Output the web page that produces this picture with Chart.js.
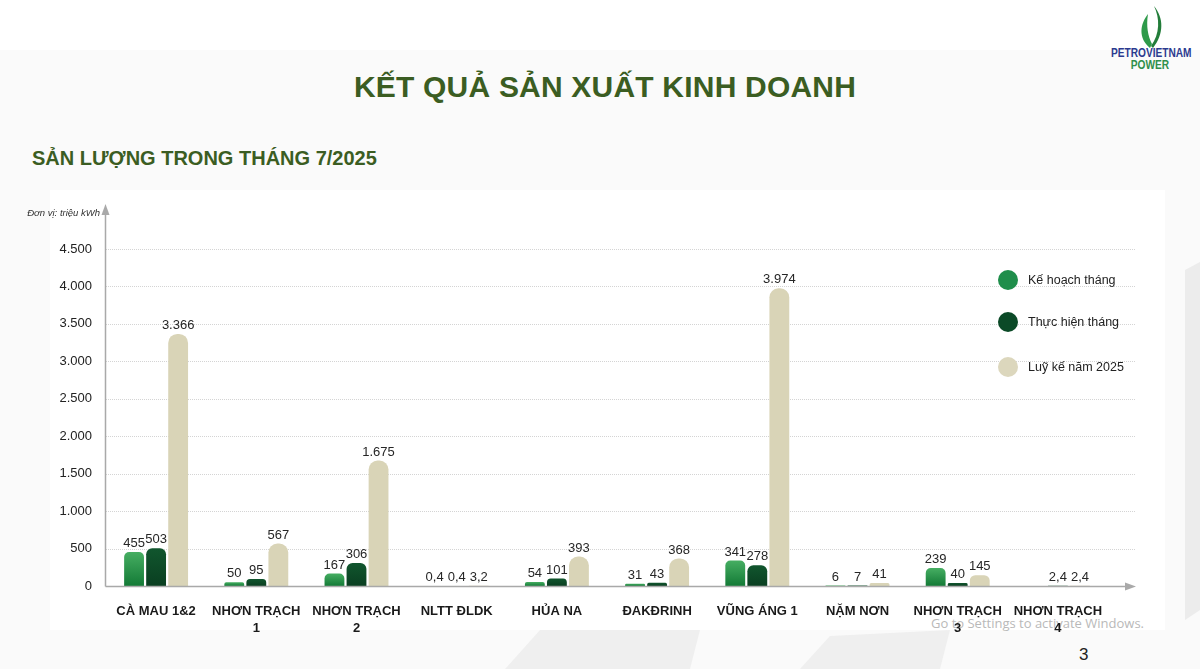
<!DOCTYPE html>
<html>
<head>
<meta charset="utf-8">
<script src="https://cdn.jsdelivr.net/npm/chart.js@4.4.1/dist/chart.umd.min.js"></script>
<style>
  html, body { margin: 0; padding: 0; }
  body { width: 1200px; height: 669px; position: relative; overflow: hidden; background: #fafafa; font-family: "Liberation Sans", Arial, sans-serif; }
  .topband { position: absolute; left: 0; top: 0; width: 1200px; height: 50px; background: #fff; }
  .panel { position: absolute; left: 50px; top: 190px; width: 1115px; height: 440px; background: #fff; }
  .deco { position: absolute; left: 0; top: 0; }
  h1 { position: absolute; left: 0; width: 1210px; top: 70px; margin: 0; text-align: center; font-size: 30px; font-weight: bold; color: #3b5d22; letter-spacing: 0.2px; }
  h2 { position: absolute; left: 32px; top: 147px; margin: 0; font-size: 20px; font-weight: bold; color: #3b5d22; }
  .logo { position: absolute; left: 1100px; top: 4px; width: 100px; text-align: center; font-weight: bold; line-height: 12px; }
  .logo .l1, .logo .l2 { transform: scaleX(0.78); transform-origin: 50% 50%; font-size: 13px; }
  .logo .l1 { color: #2b3a8f; margin-top: -2px; }
  .logo .l2 { color: #2f8f4a; }
  .pageno { position: absolute; left: 1079px; top: 645px; font-size: 17px; color: #222; }
  .wm { position: absolute; left: 931px; top: 614px; font-family: "Open Sans", sans-serif; font-size: 13px; color: #b9b9b9; }
  canvas { position: absolute; left: 0; top: 0; }
</style>
</head>
<body>
<div class="topband"></div>
<svg class="deco" width="1200" height="669">
  <polygon points="1185,270 1200,262 1200,610 1185,620" fill="#ececec"/>
  <polygon points="505,669 540,630 700,630 690,669" fill="#efefef"/>
  <polygon points="800,669 830,636 950,630 940,669" fill="#efefef"/>
</svg>
<div class="panel"></div>
<h1>KẾT QUẢ SẢN XUẤT KINH DOANH</h1>
<h2>SẢN LƯỢNG TRONG THÁNG 7/2025</h2>
<div class="logo">
  <svg width="40" height="44" viewBox="0 0 40 44">
    <path d="M20 44 C8 34 10 20 18 10 C16 22 18 32 22 40 Z" fill="#2e9a4a"/>
    <path d="M21 42 C30 30 30 14 24 2 C34 14 34 30 23 44 Z" fill="#237d3a"/>
  </svg>
  <div class="l1">PETROVIETNAM</div>
  <div class="l2">POWER</div>
</div>
<div class="pageno">3</div>
<div class="wm">Go to Settings to activate Windows.</div>
<canvas id="chart" width="1200" height="669"></canvas>

<script>
const categories = [
  ['CÀ MAU 1&2'],
  ['NHƠN TRẠCH', '1'],
  ['NHƠN TRẠCH', '2'],
  ['NLTT ĐLDK'],
  ['HỦA NA'],
  ['ĐAKĐRINH'],
  ['VŨNG ÁNG 1'],
  ['NẶM NƠN'],
  ['NHƠN TRẠCH', '3'],
  ['NHƠN TRẠCH', '4']
];
const keHoachThang = [455, 50, 167, 0.4, 54, 31, 341, 6, 239, null];
const thucHienThang = [503, 95, 306, 0.4, 101, 43, 278, 7, 40, 2.4];
const luyKeNam = [3366, 567, 1675, 3.2, 393, 368, 3974, 41, 145, 2.4];
const yTicks = [0, 500, 1000, 1500, 2000, 2500, 3000, 3500, 4000, 4500];
const yUnit = 'Đơn vị: triệu kWh';

// so kieu VN: 3.366 va 0,4
function fmtVi(v) {
  const parts = String(v).split('.');
  parts[0] = parts[0].replace(/\B(?=(\d{3})+(?!\d))/g, '.');
  return parts.join(',');
}

function barGradient(ctx, top, bottom) {
  const chart = ctx.chart;
  const y = chart.scales && chart.scales.y;
  if (!chart.chartArea || !y || ctx.raw == null) return top;
  const y0 = y.getPixelForValue(0);
  const y1 = y.getPixelForValue(ctx.raw);
  if (!isFinite(y0) || !isFinite(y1) || y0 - y1 < 1) return top;
  const g = chart.ctx.createLinearGradient(0, y1, 0, y0);
  g.addColorStop(0, top);
  g.addColorStop(1, bottom);
  return g;
}

const legendColors = ['#1f8e4b', '#0b4a27', '#dcd7bd'];

const decorPlugin = {
  id: 'decor',
  beforeDatasetsDraw(chart) {
    const { ctx, chartArea, scales } = chart;
    const y = scales.y;
    const xEnd = 1135;
    ctx.save();
    // luoi ngang
    ctx.strokeStyle = '#d4d4d4';
    ctx.lineWidth = 1;
    ctx.setLineDash([1, 1]);
    yTicks.forEach(t => {
      if (t === 0) return;
      const py = Math.round(y.getPixelForValue(t)) + 0.5;
      ctx.beginPath();
      ctx.moveTo(chartArea.left, py);
      ctx.lineTo(xEnd, py);
      ctx.stroke();
    });
    ctx.setLineDash([]);
    ctx.restore();
  },
  afterDatasetsDraw(chart) {
    const { ctx, chartArea, scales } = chart;
    const y = scales.y;
    const xEnd = 1136;
    const ax = chartArea.left - 0.5;
    const ay = Math.round(y.getPixelForValue(0)) + 0.5;
    ctx.save();
    ctx.strokeStyle = '#a9a9a9';
    ctx.fillStyle = '#a9a9a9';
    ctx.lineWidth = 1.5;
    // truc x
    ctx.beginPath();
    ctx.moveTo(ax, ay);
    ctx.lineTo(xEnd - 8, ay);
    ctx.stroke();
    ctx.beginPath();
    ctx.moveTo(xEnd, ay);
    ctx.lineTo(xEnd - 11, ay - 4);
    ctx.lineTo(xEnd - 11, ay + 4);
    ctx.closePath();
    ctx.fill();
    // truc y
    const yTop = chartArea.top;
    ctx.beginPath();
    ctx.moveTo(ax, ay);
    ctx.lineTo(ax, yTop + 8);
    ctx.stroke();
    ctx.beginPath();
    ctx.moveTo(ax, yTop);
    ctx.lineTo(ax - 4, yTop + 11);
    ctx.lineTo(ax + 4, yTop + 11);
    ctx.closePath();
    ctx.fill();

    // don vi
    ctx.fillStyle = '#333';
    ctx.font = 'italic 9.5px "Liberation Sans", Arial, sans-serif';
    ctx.textAlign = 'right';
    ctx.textBaseline = 'middle';
    ctx.fillText(yUnit, 100, 213);

    // nhan gia tri
    ctx.font = '13px "Liberation Sans", Arial, sans-serif';
    ctx.fillStyle = '#262626';
    ctx.textAlign = 'center';
    ctx.textBaseline = 'bottom';
    chart.data.datasets.forEach((ds, i) => {
      const meta = chart.getDatasetMeta(i);
      meta.data.forEach((bar, j) => {
        const v = ds.data[j];
        if (v == null) return;
        ctx.fillText(fmtVi(v), bar.x, bar.y - 2);
      });
    });

    // chu giai
    const ly = [280, 322, 367];
    ctx.font = '12.5px "Liberation Sans", Arial, sans-serif';
    ctx.textAlign = 'left';
    ctx.textBaseline = 'middle';
    chart.data.datasets.forEach((ds, i) => {
      ctx.fillStyle = legendColors[i];
      ctx.beginPath();
      ctx.arc(1008, ly[i], 10, 0, Math.PI * 2);
      ctx.fill();
      ctx.fillStyle = '#222';
      ctx.fillText(ds.label, 1028, ly[i] + 1);
    });
    ctx.restore();
  }
};

new Chart(document.getElementById('chart'), {
  type: 'bar',
  data: {
    labels: categories,
    datasets: [
      {
        label: 'Kế hoạch tháng',
        data: keHoachThang,
        backgroundColor: c => barGradient(c, '#46ae62', '#137a36'),
        borderRadius: { topLeft: 5, topRight: 5 },
        borderSkipped: 'bottom'
      },
      {
        label: 'Thực hiện tháng',
        data: thucHienThang,
        backgroundColor: c => barGradient(c, '#11562e', '#0a3f21'),
        borderRadius: { topLeft: 6, topRight: 6 },
        borderSkipped: 'bottom'
      },
      {
        label: 'Luỹ kế năm 2025',
        data: luyKeNam,
        backgroundColor: '#d9d4b7',
        borderRadius: { topLeft: 9, topRight: 9 },
        borderSkipped: 'bottom'
      }
    ]
  },
  options: {
    responsive: false,
    animation: false,
    devicePixelRatio: 1,
    layout: { padding: { top: 204, right: 92, bottom: 0, left: 0 } },
    categoryPercentage: 0.66,
    barPercentage: 0.9,
    plugins: {
      legend: { display: false },
      tooltip: { enabled: false }
    },
    scales: {
      x: {
        grid: { display: false },
        border: { display: false },
        ticks: {
          autoSkip: false,
          maxRotation: 0,
          padding: 9,
          color: '#1a1a1a',
          font: { family: '"Liberation Sans", Arial, sans-serif', size: 13, weight: 'bold', lineHeight: 1.3 }
        },
        afterFit(scale) { scale.height = 83; }
      },
      y: {
        min: 0,
        max: 5100,
        grid: { display: false },
        border: { display: false },
        ticks: {
          padding: 6,
          color: '#222',
          font: { family: '"Liberation Sans", Arial, sans-serif', size: 13 },
          callback: v => fmtVi(v)
        },
        afterBuildTicks(scale) { scale.ticks = yTicks.map(v => ({ value: v })); },
        afterFit(scale) { scale.width = 106; }
      }
    }
  },
  plugins: [decorPlugin]
});
</script>
</body>
</html>
